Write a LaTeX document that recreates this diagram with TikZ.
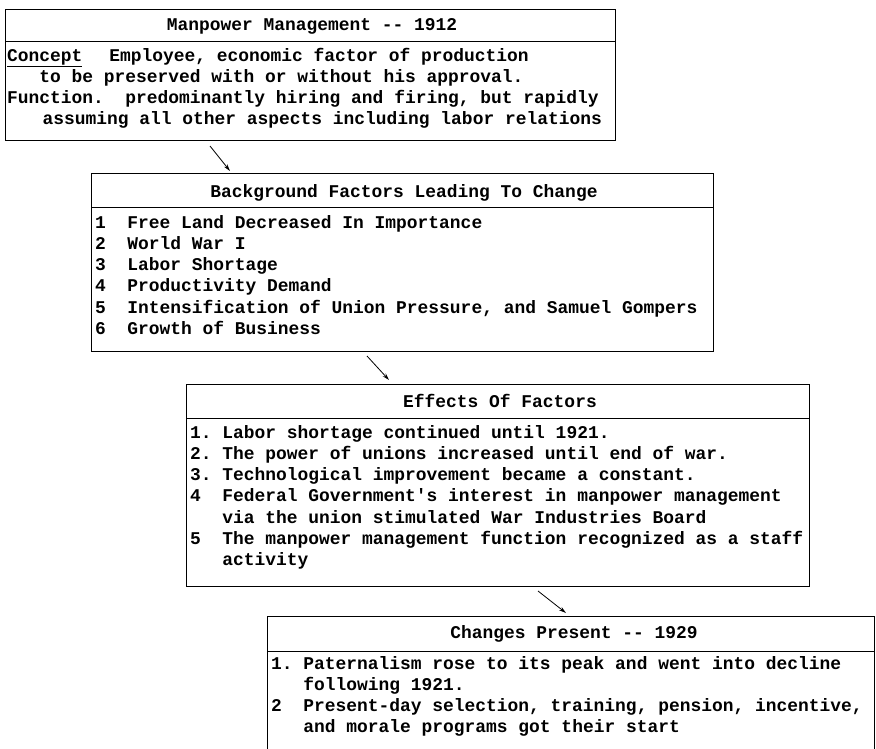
\documentclass[tikz,border=0pt]{standalone}
\usepackage{fontspec}
\setmonofont{Liberation Mono}
\usetikzlibrary{arrows.meta}
\newlength\cw
\setlength\cw{10.75pt}
\newcommand\numcol[1]{\makebox[3\cw][l]{#1}}
\newcommand\indt[1]{\hspace*{#1\cw}}
\tikzset{
  box/.style={draw, line width=1pt, minimum width=#1, inner sep=0pt, anchor=north west},
  txt/.style={inner sep=0pt, anchor=base west, font=\ttfamily\bfseries\fontsize{17.92}{21.3}\selectfont},
  ttl/.style={inner sep=0pt, anchor=base, font=\ttfamily\bfseries\fontsize{17.92}{21.3}\selectfont},
  arr/.style={line width=0.8pt, -{Stealth[length=7pt,width=4pt]}},
  divline/.style={line width=1pt}
}
\begin{document}
\begin{tikzpicture}[x=1pt,y=-1pt]
\frenchspacing
\useasboundingbox (0,0) rectangle (876,748);
\fill[white] (0,0) rectangle (876,748);
% boxes
\node[box=610pt, minimum height=131pt] (b1) at (5,9) {};
\node[box=622pt, minimum height=178pt] (b2) at (91,173) {};
\node[box=623pt, minimum height=202pt] (b3) at (186,384) {};
\node[box=607pt, minimum height=160pt] (b4) at (267,616) {};
% dividers
\draw[divline] ([yshift=-32pt]b1.north west) -- ([yshift=-32pt]b1.north east);
\draw[divline] ([yshift=-34pt]b2.north west) -- ([yshift=-34pt]b2.north east);
\draw[divline] ([yshift=-34pt]b3.north west) -- ([yshift=-34pt]b3.north east);
\draw[divline] ([yshift=-35pt]b4.north west) -- ([yshift=-35pt]b4.north east);
% titles
\node[ttl] (t1) at (312,30) {Manpower Management -{}- 1912};
\node[ttl] (t2) at (404,197) {Background Factors Leading To Change};
\node[ttl] (t3) at (500,407) {Effects Of Factors};
\node[ttl] (t4) at (574,638) {Changes Present -{}- 1929};
% box 1 body
\node[txt] (p1a) at (7,61) {\underline{Concept}\indt{2.5}Employee, economic factor of production};
\node[txt] (p1b) at (7,82.3) {\indt{3}to be preserved with or without his approval.};
\node[txt] (p1c) at (7,103.6) {Function.\indt{2}predominantly hiring and firing, but rapidly};
\node[txt] (p1d) at (7,124.9) {\indt{3.3}assuming all other aspects including labor relations};
% box 2 body
\node[txt] (p2a) at (95,228) {\numcol{1}Free Land Decreased In Importance};
\node[txt] (p2b) at (95,249.3) {\numcol{2}World War I};
\node[txt] (p2c) at (95,270.6) {\numcol{3}Labor Shortage};
\node[txt] (p2d) at (95,291.9) {\numcol{4}Productivity Demand};
\node[txt] (p2e) at (95,313.2) {\numcol{5}Intensification of Union Pressure, and Samuel Gompers};
\node[txt] (p2f) at (95,334.5) {\numcol{6}Growth of Business};
% box 3 body
\node[txt] (p3a) at (190,438) {\numcol{1.}Labor shortage continued until 1921.};
\node[txt] (p3b) at (190,459.3) {\numcol{2.}The power of unions increased until end of war.};
\node[txt] (p3c) at (190,480.6) {\numcol{3.}Technological improvement became a constant.};
\node[txt] (p3d) at (190,501.9) {\numcol{4}Federal Government\textquotesingle s interest in manpower management};
\node[txt] (p3e) at (190,523.2) {\numcol{}via the union stimulated War Industries Board};
\node[txt] (p3f) at (190,544.5) {\numcol{5}The manpower management function recognized as a staff};
\node[txt] (p3g) at (190,565.8) {\numcol{}activity};
% box 4 body
\node[txt] (p4a) at (271,669) {\numcol{1.}Paternalism rose to its peak and went into decline};
\node[txt] (p4b) at (271,690.3) {\numcol{}following 1921.};
\node[txt] (p4c) at (271,711.6) {\numcol{2}Present-day selection, training, pension, incentive,};
\node[txt] (p4d) at (271,732.9) {\numcol{}and morale programs got their start};
% arrows
\draw[arr] ([xshift=205pt,yshift=-5pt]b1.south west) -- ([xshift=139pt,yshift=2pt]b2.north west);
\draw[arr] ([xshift=276pt,yshift=-4pt]b2.south west) -- ([xshift=203pt,yshift=4pt]b3.north west);
\draw[arr] ([xshift=352pt,yshift=-4pt]b3.south west) -- ([xshift=299pt,yshift=3pt]b4.north west);
\end{tikzpicture}
\end{document}
